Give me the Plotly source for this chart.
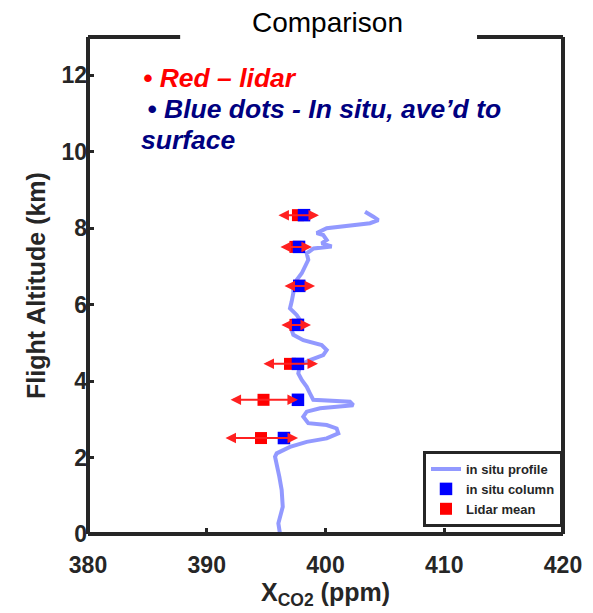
import plotly.graph_objects as go

# ---- data ----
prof_xco2 = [396.17, 396.03, 396.40, 396.31, 396.11, 395.89, 395.75, 395.89, 397.01, 398.42,
             400.10, 401.08, 400.94, 400.10, 398.55, 398.13, 398.42, 399.54, 402.34, 402.06,
             398.97, 398.69, 398.42, 398.00, 397.71, 397.85, 398.69, 399.81, 400.10, 399.68,
             398.13, 397.29, 397.15, 397.43, 397.85, 397.57, 397.01, 397.15, 397.29, 397.29,
             397.57, 398.00, 398.27, 398.55, 398.42, 399.00, 400.52, 399.68, 400.10, 399.81,
             399.26, 400.10, 403.75, 404.45, 404.03, 403.33]
prof_alt = [0.00, 0.28, 0.71, 1.15, 1.50, 1.76, 2.02, 2.11, 2.28, 2.41,
            2.50, 2.63, 2.76, 2.85, 2.90, 3.07, 3.20, 3.29, 3.37, 3.46,
            3.51, 3.68, 3.85, 4.03, 4.20, 4.42, 4.55, 4.68, 4.81, 4.94,
            5.07, 5.21, 5.34, 5.47, 5.60, 5.73, 5.90, 6.08, 6.30, 6.47,
            6.64, 6.82, 6.99, 7.17, 7.34, 7.47, 7.52, 7.60, 7.69, 7.82,
            7.87, 8.00, 8.13, 8.21, 8.30, 8.43]

col_alt = [8.34, 7.51, 6.49, 5.47, 4.45, 3.51, 2.51]
insitu_column = [398.19, 397.77, 397.79, 397.68, 397.68, 397.68, 396.50]
lidar_mean = [397.68, 397.47, 397.77, 397.47, 397.01, 394.78, 394.57]
lidar_err = [1.77, 1.39, 1.35, 1.31, 2.36, 2.90, 3.12]

x_ticks = [380, 390, 400, 410, 420]
y_ticks = [0, 2, 4, 6, 8, 10, 12]

FONT = "Liberation Sans, Arial, sans-serif"
DARK = "#262626"

fig = go.Figure()

fig.add_trace(go.Scatter(
    x=prof_xco2, y=prof_alt, mode="lines", name="in situ profile",
    line=dict(color="rgba(95,105,255,0.68)", width=4), legendrank=1))

fig.add_trace(go.Scatter(
    x=lidar_mean, y=col_alt, mode="markers", name="Lidar mean",
    marker=dict(symbol="square", size=12, color="#ff0000"), legendrank=3))

fig.add_trace(go.Scatter(
    x=insitu_column, y=col_alt, mode="markers", name="in situ column",
    marker=dict(symbol="square", size=12.5, color="#0000ff"), legendrank=2))

annotations = []
# lidar error arrows (double headed)
for xm, ya, e in zip(lidar_mean, col_alt, lidar_err):
    annotations.append(dict(
        x=xm + e, y=ya, ax=xm - e, ay=ya, xref="x", yref="y", axref="x", ayref="y",
        text="", showarrow=True, arrowside="end+start", arrowhead=2, arrowsize=1.05,
        arrowwidth=2, arrowcolor="#ff2020", standoff=0, startstandoff=0))

# title
annotations.append(dict(x=0.505, y=1.030, xref="paper", yref="paper", text="Comparison",
                        showarrow=False, xanchor="center", yanchor="middle",
                        font=dict(family=FONT, size=28, color="black"), bgcolor="white"))

# text notes
NOTE = 26.5
annotations.append(dict(x=0.112, y=0.9175, xref="paper", yref="paper",
                        text="<b><i>• Red – lidar</i></b>", showarrow=False,
                        xanchor="left", yanchor="middle",
                        font=dict(family=FONT, size=NOTE, color="#ff0000")))
annotations.append(dict(x=0.106, y=0.855, xref="paper", yref="paper",
                        text="<b><i> • Blue dots - In situ, ave’d to</i></b>", showarrow=False,
                        xanchor="left", yanchor="middle",
                        font=dict(family=FONT, size=NOTE, color="#000080")))
annotations.append(dict(x=0.108, y=0.793, xref="paper", yref="paper",
                        text="<b><i>surface</i></b>", showarrow=False,
                        xanchor="left", yanchor="middle",
                        font=dict(family=FONT, size=NOTE, color="#000080")))

line = dict(color=DARK, width=4)
shapes = [
    dict(type="line", xref="paper", yref="paper", x0=0, x1=0, y0=0, y1=1, line=line, layer="above"),
    dict(type="line", xref="paper", yref="paper", x0=1, x1=1, y0=0, y1=1, line=line, layer="above"),
    dict(type="line", xref="paper", yref="paper", x0=0, x1=1, y0=0, y1=0, line=line, layer="above"),
    dict(type="line", xref="paper", yref="paper", x0=0, x1=0.194, y0=1, y1=1, line=line, layer="above"),
    dict(type="line", xref="paper", yref="paper", x0=0.819, x1=1, y0=1, y1=1, line=line, layer="above"),
]

fig.update_layout(
    width=593, height=613,
    margin=dict(l=88, r=30, t=37, b=79),
    paper_bgcolor="white", plot_bgcolor="white",
    font=dict(family=FONT, color=DARK),
    annotations=annotations, shapes=shapes,
    legend=dict(x=1.0, xanchor="right", y=0.014, yanchor="bottom",
                bgcolor="white", bordercolor=DARK, borderwidth=3,
                font=dict(family=FONT, size=13, color=DARK, weight="bold"),
                tracegroupgap=0, itemwidth=30),
    showlegend=True,
)

fig.update_xaxes(range=[380, 420], tickvals=x_ticks, ticktext=[str(v) for v in x_ticks],
                 ticks="inside", ticklen=6, tickwidth=3, tickcolor=DARK,
                 showgrid=False, zeroline=False, showline=False, ticklabelstandoff=15,
                 tickfont=dict(family=FONT, size=23, color=DARK, weight="bold"),
                 title=dict(text="<b>X<sub>CO2</sub> (ppm)</b>", standoff=3,
                            font=dict(family=FONT, size=25, color=DARK)))
fig.update_yaxes(range=[0, 13], tickvals=y_ticks, ticktext=[str(v) for v in y_ticks],
                 ticks="inside", ticklen=6, tickwidth=3, tickcolor=DARK,
                 showgrid=False, zeroline=False, showline=False,
                 tickfont=dict(family=FONT, size=23, color=DARK, weight="bold"),
                 title=dict(text="<b>Flight Altitude (km)</b>", standoff=8,
                            font=dict(family=FONT, size=25, color=DARK)))

fig.write_html("out.html")
